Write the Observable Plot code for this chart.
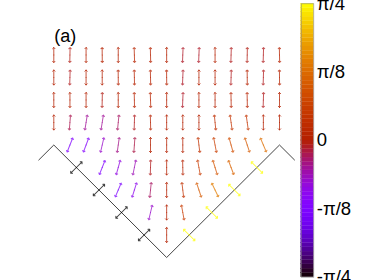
<!DOCTYPE html>
<html>
<head>
<meta charset="utf-8">
<script src="https://cdn.jsdelivr.net/npm/d3@7"></script>
<script src="https://cdn.jsdelivr.net/npm/@observablehq/plot@0.6"></script>
<style>
  html, body { margin: 0; padding: 0; background: white; }
  #wrap { display: flex; width: 374px; height: 280px; overflow: hidden; }
</style>
</head>
<body>
<div id="wrap"></div>
<script>
const PI = Math.PI;

// grid of the director field (columns in x, rows in y)
const colX = [-1, -0.857, -0.714, -0.571, -0.429, -0.286, -0.143, 0, 0.143, 0.286, 0.429, 0.571, 0.714, 0.857, 1];
const rowY = [1.8, 1.6, 1.4, 1.2, 1.0, 0.8, 0.6, 0.4, 0.2];
// tilt angle (rad) of each director, null where no arrow is drawn
const N = null;
const theta = [
  [0, -0.02, 0, 0.01, 0, 0.03, 0.02, 0, -0.04, -0.04, 0, -0.03, -0.02, -0.03, 0.02],
  [0, -0.03, 0, 0, 0.01, 0.02, 0.02, 0.01, -0.04, 0, 0, -0.03, 0.01, -0.03, 0.01],
  [0, 0, 0, -0.02, 0, 0.02, 0.03, 0, -0.04, 0, 0, 0.02, 0.02, -0.03, 0],
  [0, -0.08, -0.16, -0.16, -0.1, -0.03, 0.02, 0, 0, 0, 0.1, 0.14, 0.14, 0, 0],
  [N, -0.38, -0.36, -0.23, -0.14, -0.07, 0, 0, 0, 0.12, 0.19, 0.27, 0.32, 0.4, N],
  [N, N, N, -0.38, -0.27, -0.2, -0.03, 0, 0.02, 0.18, 0.3, 0.36, N, N, N],
  [N, N, N, N, -0.4, -0.3, -0.1, 0, 0.12, 0.32, 0.45, N, N, N, N],
  [N, N, N, N, N, N, -0.23, 0, 0.18, N, N, N, N, N, N],
  [N, N, N, N, N, N, N, 0, N, N, N, N, N, N, N]
];

// anchoring directors on the two walls
const wallArrowY = [0.8, 0.6, 0.4, 0.2];
const leftWallTheta = -PI / 4;
const rightWallTheta = PI / 4;

// wedge outline
const wallX = [-1.133, -1, 0, 1, 1.133];
const wallY = [0.867, 1, 0, 1, 0.867];

// colour bar
const cbTicks = [-PI / 4, -PI / 8, 0, PI / 8, PI / 4];
const cbLabels = ["-π/4", "-π/8", "0", "π/8", "π/4"];
const cbLevels = 64;

// gnuplot default palette (rgbformulae 7,5,15)
const gnuplot = t => {
  const r = Math.sqrt(Math.max(0, t));
  const g = Math.pow(t, 3);
  const b = Math.max(0, Math.sin(2 * PI * t));
  return d3.rgb(255 * r, 255 * g, 255 * b).formatHex();
};

const field = [];
rowY.forEach((y, j) => colX.forEach((x, i) => {
  const th = theta[j][i];
  if (th !== null) field.push({x, y, theta: th});
}));
const walls = [
  ...wallArrowY.map(y => ({x: -y, y, theta: leftWallTheta})),
  ...wallArrowY.map(y => ({x: y, y, theta: rightWallTheta}))
];
const wallLine = wallX.map((x, i) => ({x, y: wallY[i]}));

const colorScale = {type: "linear", domain: [-PI / 4, PI / 4], interpolate: gnuplot};

function halfVectors(data, len) {
  const common = {x: "x", y: "y", stroke: "theta", length: len / 2, anchor: "start", r: 2.8, strokeWidth: 1, strokeOpacity: 0.75};
  return [
    Plot.vector(data, {...common, rotate: d => -d.theta * 180 / PI}),
    Plot.vector(data, {...common, rotate: d => 180 - d.theta * 180 / PI})
  ];
}

const main = Plot.plot({
  width: 300,
  height: 280,
  marginLeft: 53.3,
  marginRight: 21,
  marginTop: 9.5,
  marginBottom: 23,
  x: {domain: [-1, 1], axis: null},
  y: {domain: [0, 2.2], axis: null},
  color: colorScale,
  style: {fontFamily: "Liberation Sans, Arial, sans-serif", background: "white", overflow: "visible"},
  marks: [
    Plot.line(wallLine, {x: "x", y: "y", stroke: "#444", strokeWidth: 1}),
    ...halfVectors(field, 15),
    ...halfVectors(walls, 16),
    Plot.text(["(a)"], {text: d => d, frameAnchor: "top-left", dx: 0.5, dy: 26, textAnchor: "start", lineAnchor: "middle", fontSize: 18, fill: "black"})
  ]
});

const slices = d3.range(cbLevels).map(k => {
  const a = -PI / 4 + (k / cbLevels) * (PI / 2);
  const b = -PI / 4 + ((k + 1) / cbLevels) * (PI / 2);
  return {y1: a, y2: b, v: (a + b) / 2};
});

const bar = Plot.plot({
  width: 74,
  height: 280,
  marginLeft: 0.7,
  marginRight: 60.7,
  marginTop: 3.3,
  marginBottom: 3.3,
  x: {axis: null},
  y: {domain: [-PI / 4, PI / 4], axis: null},
  color: colorScale,
  style: {fontFamily: "Liberation Sans, Arial, sans-serif", background: "white"},
  marks: [
    Plot.rect(slices, {y1: "y1", y2: "y2", fill: "v", stroke: "v", strokeWidth: 0.3}),
    Plot.frame({stroke: "#888", strokeWidth: 0.6}),
    Plot.axisY(cbTicks, {anchor: "right", tickSize: 0, tickPadding: 3, tickFormat: (d, i) => cbLabels[i], fontSize: 18.5, fill: "black"})
  ]
});

const wrap = document.getElementById("wrap");
wrap.appendChild(main);
wrap.appendChild(bar);
</script>
</body>
</html>
